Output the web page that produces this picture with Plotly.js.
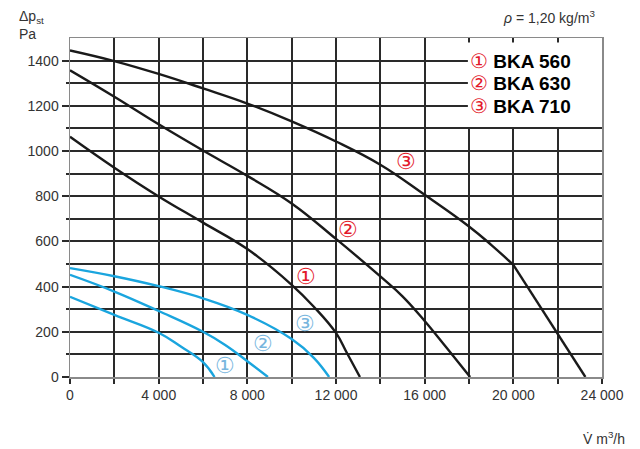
<!DOCTYPE html>
<html>
<head>
<meta charset="utf-8">
<script src="https://cdn.plot.ly/plotly-3.0.1.min.js"></script>
<style>html,body{margin:0;padding:0;background:#fff;}#chart{width:640px;height:449px;}</style>
</head>
<body>
<div id="chart"></div>
<script>
// ---- data ----
const flowBKA560 = [0, 2000, 4000, 6000, 8000, 10000, 11000, 12000, 12500, 13080];
const dpBKA560   = [1063, 926, 799, 683, 566, 408, 311, 195, 105, 0];

const flowBKA630 = [0, 2000, 4000, 6000, 8000, 10000, 12000, 14000, 15000, 16000, 17000, 18050];
const dpBKA630   = [1357, 1240, 1118, 1002, 890, 768, 611, 445, 357, 248, 128, 0];

const flowBKA710 = [0, 2000, 4000, 6000, 8000, 10000, 12000, 14000, 16000, 18000, 19000, 20000, 23250];
const dpBKA710   = [1445, 1398, 1341, 1277, 1210, 1131, 1042, 939, 806, 666, 585, 496, 0];

const flowBlue1 = [0, 2000, 4000, 5000, 6000, 6520];
const dpBlue1   = [355, 275, 196, 135, 66, 0];
const flowBlue2 = [0, 2000, 4000, 6000, 7000, 8000, 8930];
const dpBlue2   = [452, 378, 292, 200, 142, 70, 0];
const flowBlue3 = [0, 2000, 4000, 6000, 8000, 10000, 11000, 11690];
const dpBlue3   = [482, 446, 402, 348, 275, 168, 85, 0];

const xTickVals = [0, 4000, 8000, 12000, 16000, 20000, 24000];
const xTickText = ['0', '4 000', '8 000', '12 000', '16 000', '20 000', '24 000'];
const xMinorVals = [2000, 6000, 10000, 14000, 18000, 22000];
const yTickVals = [0, 200, 400, 600, 800, 1000, 1200, 1400];
const yTickText = ['0', '200', '400', '600', '800', '1000', '1200', '1400'];
const yMinorVals = [100, 300, 500, 700, 900, 1100, 1300];

const legendNames = ['BKA 560', 'BKA 630', 'BKA 710'];
const legendMarks = ['\u2460', '\u2461', '\u2462'];
const legendRowsY = [1400, 1300, 1200];

const redLabelX = [10654, 12552, 15142];
const redLabelY = [444, 654, 954];
const blueLabelX = [7006, 8710, 10622];
const blueLabelY = [53, 149, 238];

// ---- styles ----
const BLACK = '#1a1a1a';
const BLUE = '#1aa5de';
const RED = '#e3192b';
const LBLUE = '#78b6de';
const FONT = 'Liberation Sans, Arial, Helvetica, sans-serif';
const GRID = '#2a2a2a';
const GW = 2;

function line(x, y, color, shape) {
  return {x: x, y: y, mode: 'lines', type: 'scatter', hoverinfo: 'skip',
          line: {color: color, width: 2.4, shape: shape || 'spline', smoothing: 1.2}};
}
const k = flowBKA710.length - 2;
const traces = [
  line(flowBlue1, dpBlue1, BLUE),
  line(flowBlue2, dpBlue2, BLUE),
  line(flowBlue3, dpBlue3, BLUE),
  line(flowBKA560, dpBKA560, BLACK),
  line(flowBKA630, dpBKA630, BLACK),
  line(flowBKA710.slice(0, k + 1), dpBKA710.slice(0, k + 1), BLACK),
  line(flowBKA710.slice(k), dpBKA710.slice(k), BLACK, 'linear')
];

const annotations = [];
for (let i = 0; i < 3; i++) {
  annotations.push({xref: 'x', yref: 'y', x: redLabelX[i], y: redLabelY[i], text: legendMarks[i],
    showarrow: false, font: {family: FONT, size: 22, color: RED}});
  annotations.push({xref: 'x', yref: 'y', x: blueLabelX[i], y: blueLabelY[i], text: legendMarks[i],
    showarrow: false, font: {family: FONT, size: 22, color: LBLUE}});
  annotations.push({xref: 'paper', yref: 'y', x: 0.748, y: legendRowsY[i], xanchor: 'left', yanchor: 'middle',
    text: '<span style="color:' + RED + ';font-size:20px">' + legendMarks[i] + '</span> <b>' + legendNames[i] + '</b>',
    showarrow: false, font: {family: FONT, size: 19, color: '#000'}});
}
annotations.push({xref: 'paper', yref: 'paper', x: -0.1, y: 1.095, xanchor: 'left', yanchor: 'top',
  align: 'left', text: '\u0394p<sub>st</sub><br>Pa', showarrow: false, font: {family: FONT, size: 14, color: '#333'}});
annotations.push({xref: 'paper', yref: 'paper', x: 0.991, y: 1.062, xanchor: 'right', yanchor: 'middle',
  text: '<i>\u03c1</i> = 1,20 kg/m<sup>3</sup>', showarrow: false, font: {family: FONT, size: 14, color: '#333'}});
annotations.push({xref: 'paper', yref: 'paper', x: 1.047, y: -0.18, xanchor: 'right', yanchor: 'middle',
  text: 'V\u0307 m<sup>3</sup>/h', showarrow: false, font: {family: FONT, size: 14, color: '#333'}});

const axisCommon = {
  ticks: 'outside', tickcolor: GRID, tickwidth: GW,
  showgrid: true, gridcolor: GRID, gridwidth: GW, zeroline: false,
  showline: true, linecolor: '#8a8a8a', linewidth: 1.5, mirror: true,
  tickfont: {family: FONT, size: 14, color: '#333'}, fixedrange: true
};

const layout = {
  width: 640, height: 449,
  margin: {l: 70, r: 38, t: 38, b: 72},
  paper_bgcolor: '#fff', plot_bgcolor: '#fff',
  showlegend: false,
  font: {family: FONT, size: 14, color: '#333'},
  xaxis: Object.assign({}, axisCommon, {
    range: [0, 24000], tickmode: 'array', tickvals: xTickVals, ticktext: xTickText, ticklen: 5,
    minor: {tickmode: 'array', tickvals: xMinorVals, ticks: 'outside', ticklen: 5, tickcolor: GRID, tickwidth: GW,
            showgrid: true, gridcolor: GRID, gridwidth: GW}
  }),
  yaxis: Object.assign({}, axisCommon, {
    range: [0, 1500], tickmode: 'array', tickvals: yTickVals, ticktext: yTickText, ticklen: 7,
    minor: {tickmode: 'array', tickvals: yMinorVals, ticks: 'outside', ticklen: 3, tickcolor: GRID, tickwidth: GW,
            showgrid: true, gridcolor: GRID, gridwidth: GW}
  }),
  shapes: [{type: 'rect', xref: 'x', yref: 'y', x0: 17950, x1: 24000, y0: 1106, y1: 1480,
            fillcolor: '#fff', line: {width: 0}, layer: 'between'}],
  annotations: annotations
};

Plotly.newPlot('chart', traces, layout, {staticPlot: true, displayModeBar: false});
</script>
</body>
</html>
